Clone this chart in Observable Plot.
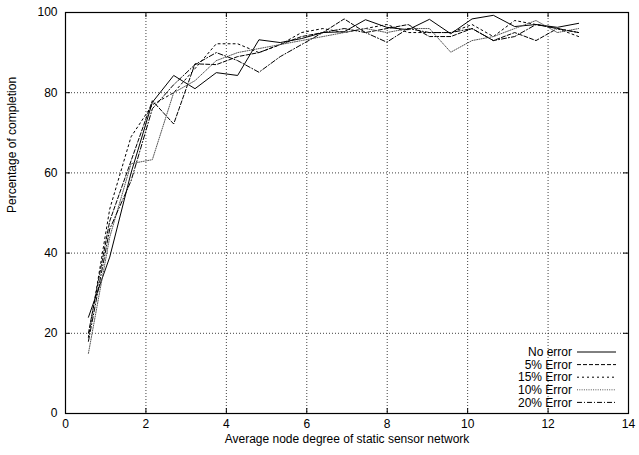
<!DOCTYPE html>
<html>
<head>
<meta charset="utf-8">
<script src="https://cdn.jsdelivr.net/npm/d3@7"></script>
<script src="https://cdn.jsdelivr.net/npm/@observablehq/plot@0.6"></script>
<style>
  html, body { margin: 0; padding: 0; background: #fff; }
  #chart { position: relative; width: 639px; height: 455px; }
</style>
</head>
<body>
<div id="chart"></div>
<script>
// ---- data ----
const degree = [0.57, 1.10, 1.63, 2.16, 2.69, 3.22, 3.75, 4.28, 4.81, 5.34, 5.87, 6.40, 6.93, 7.46, 7.99, 8.52, 9.05, 9.58, 10.11, 10.64, 11.17, 11.70, 12.23, 12.76];
const noError  = [24, 39, 60, 77.6, 84.3, 81, 85, 84.3, 93.2, 92.5, 93.5, 95, 95.2, 98.2, 96.3, 95.7, 98.3, 94.7, 98.4, 99.3, 96.5, 97, 96.3, 97.3];
const err5     = [20, 48, 63, 78, 72.2, 87.2, 87, 89, 90, 92, 94, 95, 98.4, 95, 96, 97, 94, 94, 96, 93, 95, 93, 96, 95];
const err15    = [19, 51, 69, 77, 80, 86, 92.2, 92.2, 90, 92, 95, 96, 95, 96, 97, 95, 95, 95, 97, 94, 98, 97, 96, 94];
const err10    = [15, 44, 62.3, 63.3, 80, 83, 88, 90, 91, 92, 93, 94, 95, 96, 95, 96, 96, 90.1, 93, 94, 96, 98, 95, 96];
const err20    = [18, 46, 58, 76, 82, 87, 90, 88, 85.1, 89, 92, 95, 96, 95, 92.6, 96, 95, 95, 96, 93, 94, 97, 96, 95];
const seriesNames = ["No error", "5% Error", "15% Error", "10% Error", "20% Error"];
const seriesValues = [noError, err5, err15, err10, err20];
const xTicks = [0, 2, 4, 6, 8, 10, 12, 14];
const yTicks = [0, 20, 40, 60, 80, 100];
const xGrid = [2, 4, 6, 8, 10, 12];
const yGrid = [20, 40, 60, 80];
const xTitle = "Average node degree of static sensor network";
const yTitle = "Percentage of completion";

// ---- styles ----
const dashes = {
  "No error": null,
  "5% Error": "4,2",
  "15% Error": "2,3",
  "10% Error": "1,1.3",
  "20% Error": "5,2,1,2"
};
const strokes = {
  "No error": "#000",
  "5% Error": "#000",
  "15% Error": "#000",
  "10% Error": "#555",
  "20% Error": "#000"
};

const rows = [];
seriesNames.forEach((name, i) => {
  degree.forEach((d, j) => rows.push({series: name, x: d, y: seriesValues[i][j]}));
});

const W = 639, H = 455, ML = 65, MR = 11, MT = 12, MB = 42;
const FW = W - ML - MR, FH = H - MT - MB, T = 5;
const font = "'Liberation Sans', Arial, Helvetica, sans-serif";

const svg = Plot.plot({
  width: W, height: H,
  marginLeft: ML, marginRight: MR, marginTop: MT, marginBottom: MB,
  style: {fontFamily: font, fontSize: "12px", background: "#fff", color: "#000"},
  x: {domain: [0, 14]},
  y: {domain: [0, 100]},
  marks: [
    Plot.gridX(xGrid, {stroke: "#000", strokeOpacity: 0.75, strokeDasharray: "1,2"}),
    Plot.gridY(yGrid, {stroke: "#000", strokeOpacity: 0.75, strokeDasharray: "1,2"}),
    ...seriesNames.map(name => Plot.line(rows.filter(r => r.series === name), {
      x: "x", y: "y", stroke: strokes[name], strokeWidth: 1,
      strokeDasharray: dashes[name]
    })),
    // inward ticks on all four sides
    Plot.tickX(xTicks, {x: d => d, stroke: "#000", insetTop: FH - T}),
    Plot.tickX(xTicks, {x: d => d, stroke: "#000", insetBottom: FH - T}),
    Plot.tickY(yTicks, {y: d => d, stroke: "#000", insetRight: FW - T}),
    Plot.tickY(yTicks, {y: d => d, stroke: "#000", insetLeft: FW - T}),
    Plot.frame({stroke: "#000", strokeWidth: 1.2}),
    Plot.axisX(xTicks, {tickSize: 0, tickPadding: 6, label: null, fontSize: 12}),
    Plot.axisY(yTicks, {tickSize: 0, tickPadding: 8, label: null, fontSize: 12}),
    Plot.text([xTitle], {frameAnchor: "bottom", dy: 29, fontSize: 12}),
    Plot.text([yTitle], {frameAnchor: "left", dx: -53, rotate: -90, fontSize: 12})
  ]
});

// legend inside the plot (lower right)
const lg = d3.select(svg).append("g").attr("font-family", font).attr("font-size", 12);
const legX = 572, legY0 = 352, legStep = 12.6, lineX1 = 577, lineX2 = 616;
seriesNames.forEach((name, i) => {
  const yy = legY0 + i * legStep;
  lg.append("text").attr("x", legX).attr("y", yy).attr("dy", "0.35em")
    .attr("text-anchor", "end").attr("fill", "#000").text(name);
  lg.append("line").attr("x1", lineX1).attr("x2", lineX2).attr("y1", yy).attr("y2", yy)
    .attr("stroke", strokes[name]).attr("stroke-width", 1)
    .attr("stroke-dasharray", dashes[name]);
});

document.getElementById("chart").appendChild(svg);
</script>
</body>
</html>
